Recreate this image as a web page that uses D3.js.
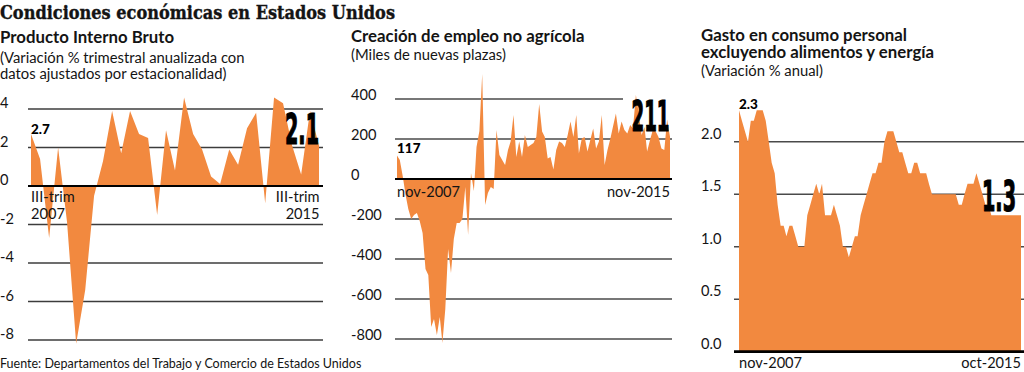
<!DOCTYPE html>
<html>
<head>
<meta charset="utf-8">
<script src="https://cdn.jsdelivr.net/npm/d3@7"></script>
<style>
  body { margin: 0; background: #fff; }
  text { font-family: Lato, "Open Sans", sans-serif; fill: #141414; }
</style>
</head>
<body>
<div id="chart"></div>
<script>
// ---- data ----
// PIB: variación % trimestral anualizada, III-trim 2007 .. III-trim 2015
let gdpQuarters = d3.timeMonth.every(3).range(new Date(2007, 6, 1), new Date(2015, 7, 1));
let gdpValues = [2.7, 1.4, -2.7, 2.0, -1.9, -8.2, -5.4, -0.5, 1.3, 3.9, 1.7, 3.9, 2.7, 2.5,
                 -1.5, 2.9, 0.8, 4.6, 2.7, 1.9, 0.5, 0.1, 1.9, 1.1, 3.0, 3.8, -0.9, 4.6,
                 4.3, 2.1, 0.6, 3.9, 2.1];
let gdpTicks = [4, 2, 0, -2, -4, -6, -8];

// Empleo no agrícola: miles de nuevas plazas, nov-2007 .. nov-2015
let jobsMonths = d3.timeMonth.range(new Date(2007, 10, 1), new Date(2015, 11, 1));
let jobsValues = [117, 95, 15, -80, -150, -200, -180, -170, -210, -270, -450, -480, -740,
                  -700, -780, -690, -820, -650, -350, -470, -300, -220, -220, -200, -40, -280,
                  30, -60, 160, 240, 525, -130, -70, -40, -50, 245, 120, 95, 70, 145, 187,
                  320, 110, 187, 110, 220, 160, 170, 180, 210, 375, 237, 210, 103, 110, 48,
                  145, 187, 180, 160, 220, 287, 210, 320, 128, 203, 210, 137, 195, 253, 153,
                  187, 320, 70, 145, 203, 262, 328, 228, 287, 245, 228, 270, 253, 420, 329,
                  220, 260, 137, 195, 245, 237, 210, 153, 145, 298, 211];
let jobsTicks = [400, 200, 0, -200, -400, -600, -800];

// Gasto en consumo personal sin alimentos y energía: variación % anual, nov-2007 .. oct-2015
let pceMonths = d3.timeMonth.range(new Date(2007, 10, 1), new Date(2015, 10, 1));
let pceValues = [2.3, 2.2, 2.1, 2.0, 2.2, 2.2, 2.3, 2.3, 2.3, 2.2, 2.0, 1.8, 1.7, 1.4, 1.2,
                 1.2, 1.1, 1.2, 1.2, 1.1, 1.0, 1.0, 1.0, 1.3, 1.4, 1.5, 1.6, 1.5, 1.6, 1.3,
                 1.3, 1.3, 1.4, 1.3, 1.2, 1.0, 1.0, 0.9, 1.0, 1.1, 1.1, 1.3, 1.4, 1.5, 1.6,
                 1.7, 1.7, 1.8, 1.8, 2.0, 2.1, 2.1, 2.1, 2.0, 1.9, 1.9, 1.8, 1.7, 1.7, 1.8,
                 1.8, 1.7, 1.7, 1.7, 1.6, 1.5, 1.5, 1.5, 1.5, 1.5, 1.5, 1.5, 1.5, 1.5, 1.4,
                 1.4, 1.5, 1.6, 1.6, 1.6, 1.7, 1.6, 1.5, 1.4, 1.4, 1.3, 1.3, 1.3, 1.3, 1.3,
                 1.3, 1.3, 1.3, 1.3, 1.3, 1.3];
let pceTicks = [2.0, 1.5, 1.0, 0.5, 0.0];

let orange = "#f2893f";

// ---- svg ----
let svg = d3.select("#chart")
            .append("svg")
            .attr("width", 1024)
            .attr("height", 372);

svg.append("text")
   .attr("x", 0)
   .attr("y", 18.5)
   .attr("textLength", 395)
   .attr("lengthAdjust", "spacingAndGlyphs")
   .style("font-family", "'DejaVu Serif', serif")
   .style("font-weight", "bold")
   .style("font-size", "19px")
   .style("stroke", "#141414")
   .style("stroke-width", 0.4)
   .text("Condiciones económicas en Estados Unidos");

function header(lines) {
    lines.forEach(function(l) {
        svg.append("text")
           .attr("x", l[0]).attr("y", l[1])
           .style("font-size", l[3] ? "16.8px" : "14.8px")
           .style("font-weight", l[3] ? "bold" : "normal")
           .text(l[2]);
    });
}

// big condensed number, squeezed to the width seen in the picture
function bigNumber(txt, x, y, w) {
    let t = svg.append("text")
               .style("font-family", "'Liberation Sans Narrow', 'DejaVu Sans Condensed', sans-serif")
               .style("font-weight", "bold")
               .style("font-size", "42px")
               .style("fill", "#000")
               .style("stroke", "#000")
               .style("stroke-width", 1.2)
               .text(txt);
    let k = w / t.node().getComputedTextLength();
    t.attr("transform", `translate(${x},${y}) scale(${k},1)`);
}

function smallBold(txt, x, y) {
    svg.append("text")
       .attr("x", x).attr("y", y)
       .style("font-size", "13.5px")
       .style("font-weight", "900")
       .style("fill", "#000")
       .text(txt);
}

function plain(txt, x, y, anchor) {
    svg.append("text")
       .attr("x", x).attr("y", y)
       .attr("text-anchor", anchor || "start")
       .style("font-size", "14.6px")
       .text(txt);
}

// one filled-area panel
function panel(p) {
    let x = d3.scaleTime()
              .domain(d3.extent(p.dates))
              .range(p.xRange);
    let y = d3.scaleLinear()
              .domain(p.yDomain)
              .range(p.yRange);

    let data = p.dates.map((d, i) => ({date: d, value: p.values[i]}));
    let g = svg.append("g");

    // gridlines (behind the area)
    g.selectAll(".grid")
     .data(p.ticks.filter(t => t !== 0))
     .enter()
        .append("line")
        .attr("x1", p.gridX[0])
        .attr("x2", t => (p.gridEnd && p.gridEnd[t]) || p.gridX[1])
        .attr("y1", t => y(t))
        .attr("y2", t => y(t))
        .attr("stroke", p.gridColor)
        .attr("stroke-width", 1.6);

    // tick labels
    g.selectAll(".tick")
     .data(p.ticks)
     .enter()
        .append("text")
        .attr("x", p.tickX)
        .attr("y", t => y(t) + p.tickDy)
        .style("font-size", "14.6px")
        .text(p.fmt);

    let area = d3.area()
                 .x(d => x(d.date))
                 .y0(y(0))
                 .y1(d => y(d.value));

    g.append("path")
     .datum(data)
     .attr("d", area)
     .attr("fill", orange);

    // zero line
    g.append("line")
     .attr("x1", p.gridX[0])
     .attr("x2", p.gridX[1])
     .attr("y1", y(0))
     .attr("y2", y(0))
     .attr("stroke", "#000")
     .attr("stroke-width", p.zeroWidth || 2.2);

    return {x: x, y: y};
}

// ---- panel 1: PIB ----
header([[0, 43, "Producto Interno Bruto", true],
        [0, 63, "(Variación % trimestral anualizada con"],
        [0, 79, "datos ajustados por estacionalidad)"]]);

panel({dates: gdpQuarters, values: gdpValues, ticks: gdpTicks,
       xRange: [31, 319], yDomain: [-8, 4], yRange: [340, 109],
       gridX: [28, 323], gridColor: "#3c3c3c",
       tickX: 0, tickDy: -1, fmt: d => d});

smallBold("2.7", 31, 133.5);
plain("III-trim", 31, 201.5);
plain("2007", 31, 218.5);
plain("III-trim", 319.5, 201.5, "end");
plain("2015", 319.5, 218.5, "end");
bigNumber("2.1", 285, 143.5, 34);

// ---- panel 2: empleo ----
header([[351, 42, "Creación de empleo no agrícola", true],
        [351, 59.5, "(Miles de nuevas plazas)"]]);

panel({dates: jobsMonths, values: jobsValues, ticks: jobsTicks,
       xRange: [397, 670], yDomain: [-800, 400], yRange: [339, 99],
       gridX: [395, 672], gridEnd: {400: 623}, gridColor: "#4a4a4a",
       tickX: 351, tickDy: 1, fmt: d => d});

smallBold("117", 397, 152.5);
plain("nov-2007", 397, 196.5);
plain("nov-2015", 670, 196.5, "end");
bigNumber("211", 631.5, 130.5, 38);

// ---- panel 3: gasto en consumo ----
header([[701, 41, "Gasto en consumo personal", true],
        [701, 57.5, "excluyendo alimentos y energía", true],
        [701, 76, "(Variación % anual)"]]);

panel({dates: pceMonths, values: pceValues, ticks: pceTicks,
       xRange: [739, 1021], yDomain: [0, 2], yRange: [351.7, 141.7],
       gridX: [734, 1024], gridColor: "#4a4a4a", zeroWidth: 2.8,
       tickX: 701, tickDy: -3, fmt: d => d.toFixed(1)});

smallBold("2.3", 739, 108.5);
plain("nov-2007", 739, 367.5);
plain("oct-2015", 1021, 367.5, "end");
bigNumber("1.3", 982, 211, 34);

// ---- fuente ----
svg.append("text")
   .attr("x", 0)
   .attr("y", 367.5)
   .style("font-size", "12.5px")
   .text("Fuente: Departamentos del Trabajo y Comercio de Estados Unidos");
</script>
</body>
</html>
